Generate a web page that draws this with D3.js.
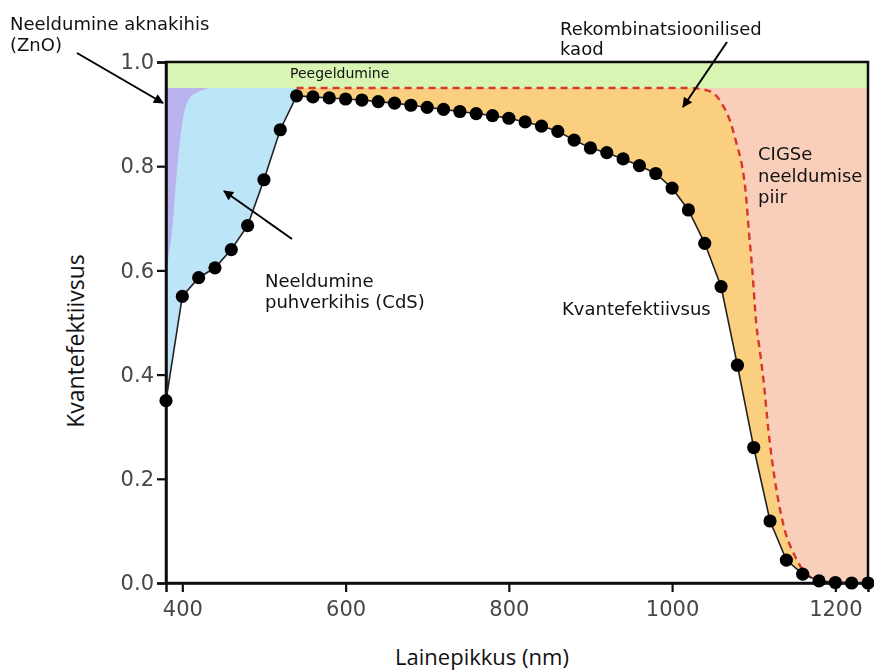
<!DOCTYPE html>
<html>
<head>
<meta charset="utf-8">
<script src="https://cdn.jsdelivr.net/npm/d3@7"></script>
<style>
  html, body { margin: 0; padding: 0; background: #fff; }
  svg { display: block; }
</style>
</head>
<body>
<svg id="chart" width="874" height="671"></svg>
<script>
// Measured quantum efficiency of a CIGSe cell, every 20 nm
const qeLambda = [380, 400, 420, 440, 460, 480, 500, 520, 540, 560, 580, 600, 620, 640, 660, 680,
  700, 720, 740, 760, 780, 800, 820, 840, 860, 880, 900, 920, 940, 960, 980, 1000,
  1020, 1040, 1060, 1080, 1100, 1120, 1140, 1160, 1180, 1200, 1220, 1240];
const qeValues = [0.35, 0.55, 0.586, 0.605, 0.64, 0.686, 0.774, 0.87, 0.935, 0.933, 0.931, 0.929, 0.927, 0.924, 0.921, 0.917,
  0.913, 0.909, 0.905, 0.901, 0.897, 0.892, 0.885, 0.877, 0.867, 0.85, 0.835, 0.826, 0.814, 0.801, 0.786, 0.758,
  0.716, 0.652, 0.569, 0.418, 0.26, 0.119, 0.044, 0.017, 0.004, 0.001, 0.0, 0.0];

// Absorption limit of the CIGSe absorber (dashed curve)
const absLambda = [540, 1020, 1035, 1049, 1061, 1071, 1079, 1086, 1090, 1094, 1098, 1103, 1108, 1112, 1118, 1126, 1136, 1151, 1169, 1190, 1240];
const absLimit  = [0.95, 0.95, 0.948, 0.942, 0.92, 0.887, 0.843, 0.798, 0.753, 0.676, 0.606, 0.50, 0.44, 0.389, 0.293, 0.197, 0.114, 0.05, 0.012, 0.002, 0.0];

// Edge of the ZnO window-layer absorption band
const znoLambda = [432, 412, 404, 400, 396, 392.3, 389.3, 386.5, 382, 380];
const znoQE     = [0.95, 0.94, 0.92, 0.886, 0.836, 0.772, 0.709, 0.657, 0.62, 0.58];

// Reflection losses occupy the band above this level
const reflectionLevel = 0.95;

const xTicks = [400, 600, 800, 1000, 1200];
const yTicks = [0.0, 0.2, 0.4, 0.6, 0.8, 1.0];

const colors = {
  reflection: "#d8f5b3",
  window: "#b9b3ef",
  buffer: "#bce5f8",
  recomb: "#fbcf80",
  absorb: "#f9cfbb",
  limit: "#d6372a"
};

const svg = d3.select("#chart");
const margin = { left: 166, right: 6, top: 62, bottom: 88 };
const W = 874, H = 671;

const x = d3.scaleLinear().domain([380, 1240]).range([margin.left, W - margin.right]);
const y = d3.scaleLinear().domain([0, 1]).range([H - margin.bottom, margin.top]);

const qe = qeLambda.map((l, i) => ({ l, v: qeValues[i] }));
const lim = absLambda.map((l, i) => ({ l, v: absLimit[i] }));
const zno = znoLambda.map((l, i) => ({ l, v: znoQE[i] }));

const defs = svg.append("defs");
// arrow head
defs.append("marker")
  .attr("id", "arrow")
  .attr("viewBox", "0 0 10 10")
  .attr("refX", 9).attr("refY", 5)
  .attr("markerWidth", 11).attr("markerHeight", 10)
  .attr("markerUnits", "userSpaceOnUse")
  .attr("orient", "auto")
  .append("path").attr("d", "M0,0 L10,5 L0,10 Z").attr("fill", "#000");
// slight softening of the plotted graphic
defs.append("filter")
  .attr("id", "soft")
  .attr("x", "-5%").attr("y", "-5%").attr("width", "110%").attr("height", "110%")
  .append("feGaussianBlur").attr("stdDeviation", 0.5);

const plot = svg.append("g").attr("filter", "url(#soft)");

// CIGSe absorption region (everything below the reflection band)
plot.append("rect")
  .attr("x", x(380)).attr("y", y(reflectionLevel))
  .attr("width", x(1240) - x(380)).attr("height", y(0) - y(reflectionLevel))
  .attr("fill", colors.absorb);

// recombination losses: below the absorption limit
plot.append("path")
  .datum(lim)
  .attr("fill", colors.recomb)
  .attr("d", d3.area().x(d => x(d.l)).y0(y(0)).y1(d => y(d.v)).curve(d3.curveMonotoneX));

// collected carriers: white under the QE curve
plot.append("path")
  .datum(qe)
  .attr("fill", "#fff")
  .attr("d", d3.area().x(d => x(d.l)).y0(y(0)).y1(d => y(d.v)));

// CdS buffer absorption
plot.append("path")
  .datum(qe.filter(d => d.l <= 540))
  .attr("fill", colors.buffer)
  .attr("d", d3.area().x(d => x(d.l)).y0(d => y(d.v)).y1(y(reflectionLevel)));

// ZnO window absorption
plot.append("path")
  .datum(zno)
  .attr("fill", colors.window)
  .attr("d", d3.area().y(d => y(d.v)).x0(x(380)).x1(d => x(d.l)).curve(d3.curveBasis));

// reflection band
plot.append("rect")
  .attr("x", x(380)).attr("y", y(1))
  .attr("width", x(1240) - x(380)).attr("height", y(reflectionLevel) - y(1))
  .attr("fill", colors.reflection);

// absorption limit, dashed
plot.append("path")
  .datum(lim)
  .attr("fill", "none")
  .attr("stroke", colors.limit)
  .attr("stroke-width", 2.4)
  .attr("stroke-dasharray", "7,5")
  .attr("d", d3.line().x(d => x(d.l)).y(d => y(d.v)).curve(d3.curveMonotoneX));

// frame
const axisColor = "#111";
plot.append("rect")
  .attr("x", x(380)).attr("y", y(1))
  .attr("width", x(1240) - x(380)).attr("height", y(0) - y(1))
  .attr("fill", "none").attr("stroke", axisColor).attr("stroke-width", 2.5);

// axes
const tickFont = "'DejaVu Sans', sans-serif";
const xAxis = plot.append("g")
  .attr("transform", `translate(0,${y(0)})`)
  .call(d3.axisBottom(x).tickValues(xTicks).tickSize(9).tickPadding(9).tickFormat(d3.format("d")));
const yAxis = plot.append("g")
  .attr("transform", `translate(${x(380)},0)`)
  .call(d3.axisLeft(y).tickValues(yTicks).tickSize(9).tickPadding(3).tickFormat(d3.format(".1f")));
[xAxis, yAxis].forEach(g => {
  g.select(".domain").attr("stroke", axisColor).attr("stroke-width", 2.5);
  g.selectAll(".tick line").attr("stroke", axisColor).attr("stroke-width", 2.2);
  g.selectAll(".tick text")
    .attr("fill", "#474747")
    .style("font-family", tickFont)
    .style("font-size", "21px");
});

// QE curve and measured points
plot.append("path")
  .datum(qe)
  .attr("fill", "none")
  .attr("stroke", "#222")
  .attr("stroke-width", 1.6)
  .attr("d", d3.line().x(d => x(d.l)).y(d => y(d.v)));
plot.append("g").selectAll("circle")
  .data(qe)
  .join("circle")
  .attr("cx", d => x(d.l))
  .attr("cy", d => y(d.v))
  .attr("r", 6.6)
  .attr("fill", "#000");

// axis titles
const titleFont = "'Open Sans', sans-serif";
svg.append("text")
  .attr("x", 482).attr("y", 665)
  .attr("text-anchor", "middle")
  .style("font-family", titleFont).style("font-size", "22px").attr("fill", "#111")
  .text("Lainepikkus (nm)");
svg.append("text")
  .attr("transform", "translate(84,341) rotate(-90)")
  .attr("text-anchor", "middle")
  .style("font-family", titleFont).style("font-size", "23px").attr("fill", "#111")
  .text("Kvantefektiivsus");

// annotations
const noteFont = "'DejaVu Sans', sans-serif";
function note(lines, x0, y0, lh, size) {
  const t = svg.append("text")
    .style("font-family", noteFont).style("font-size", size + "px").attr("fill", "#111");
  lines.forEach((s, i) => t.append("tspan").attr("x", x0).attr("y", y0 + i * lh).text(s));
}
note(["Neeldumine aknakihis", "(ZnO)"], 10, 30, 21, 18);
note(["Rekombinatsioonilised", "kaod"], 560, 35, 20, 18);
note(["CIGSe", "neeldumise", "piir"], 758, 160, 21.5, 18);
note(["Neeldumine", "puhverkihis (CdS)"], 265, 287, 21, 18);
note(["Kvantefektiivsus"], 562, 315, 21, 18);
note(["Peegeldumine"], 290, 78, 16, 14);

// arrows
const arrows = [
  [77, 53, 163, 103],
  [292, 239, 224, 191],
  [727, 42, 683, 107]
];
svg.append("g").selectAll("line")
  .data(arrows)
  .join("line")
  .attr("x1", d => d[0]).attr("y1", d => d[1])
  .attr("x2", d => d[2]).attr("y2", d => d[3])
  .attr("stroke", "#000").attr("stroke-width", 2)
  .attr("marker-end", "url(#arrow)");
</script>
</body>
</html>
